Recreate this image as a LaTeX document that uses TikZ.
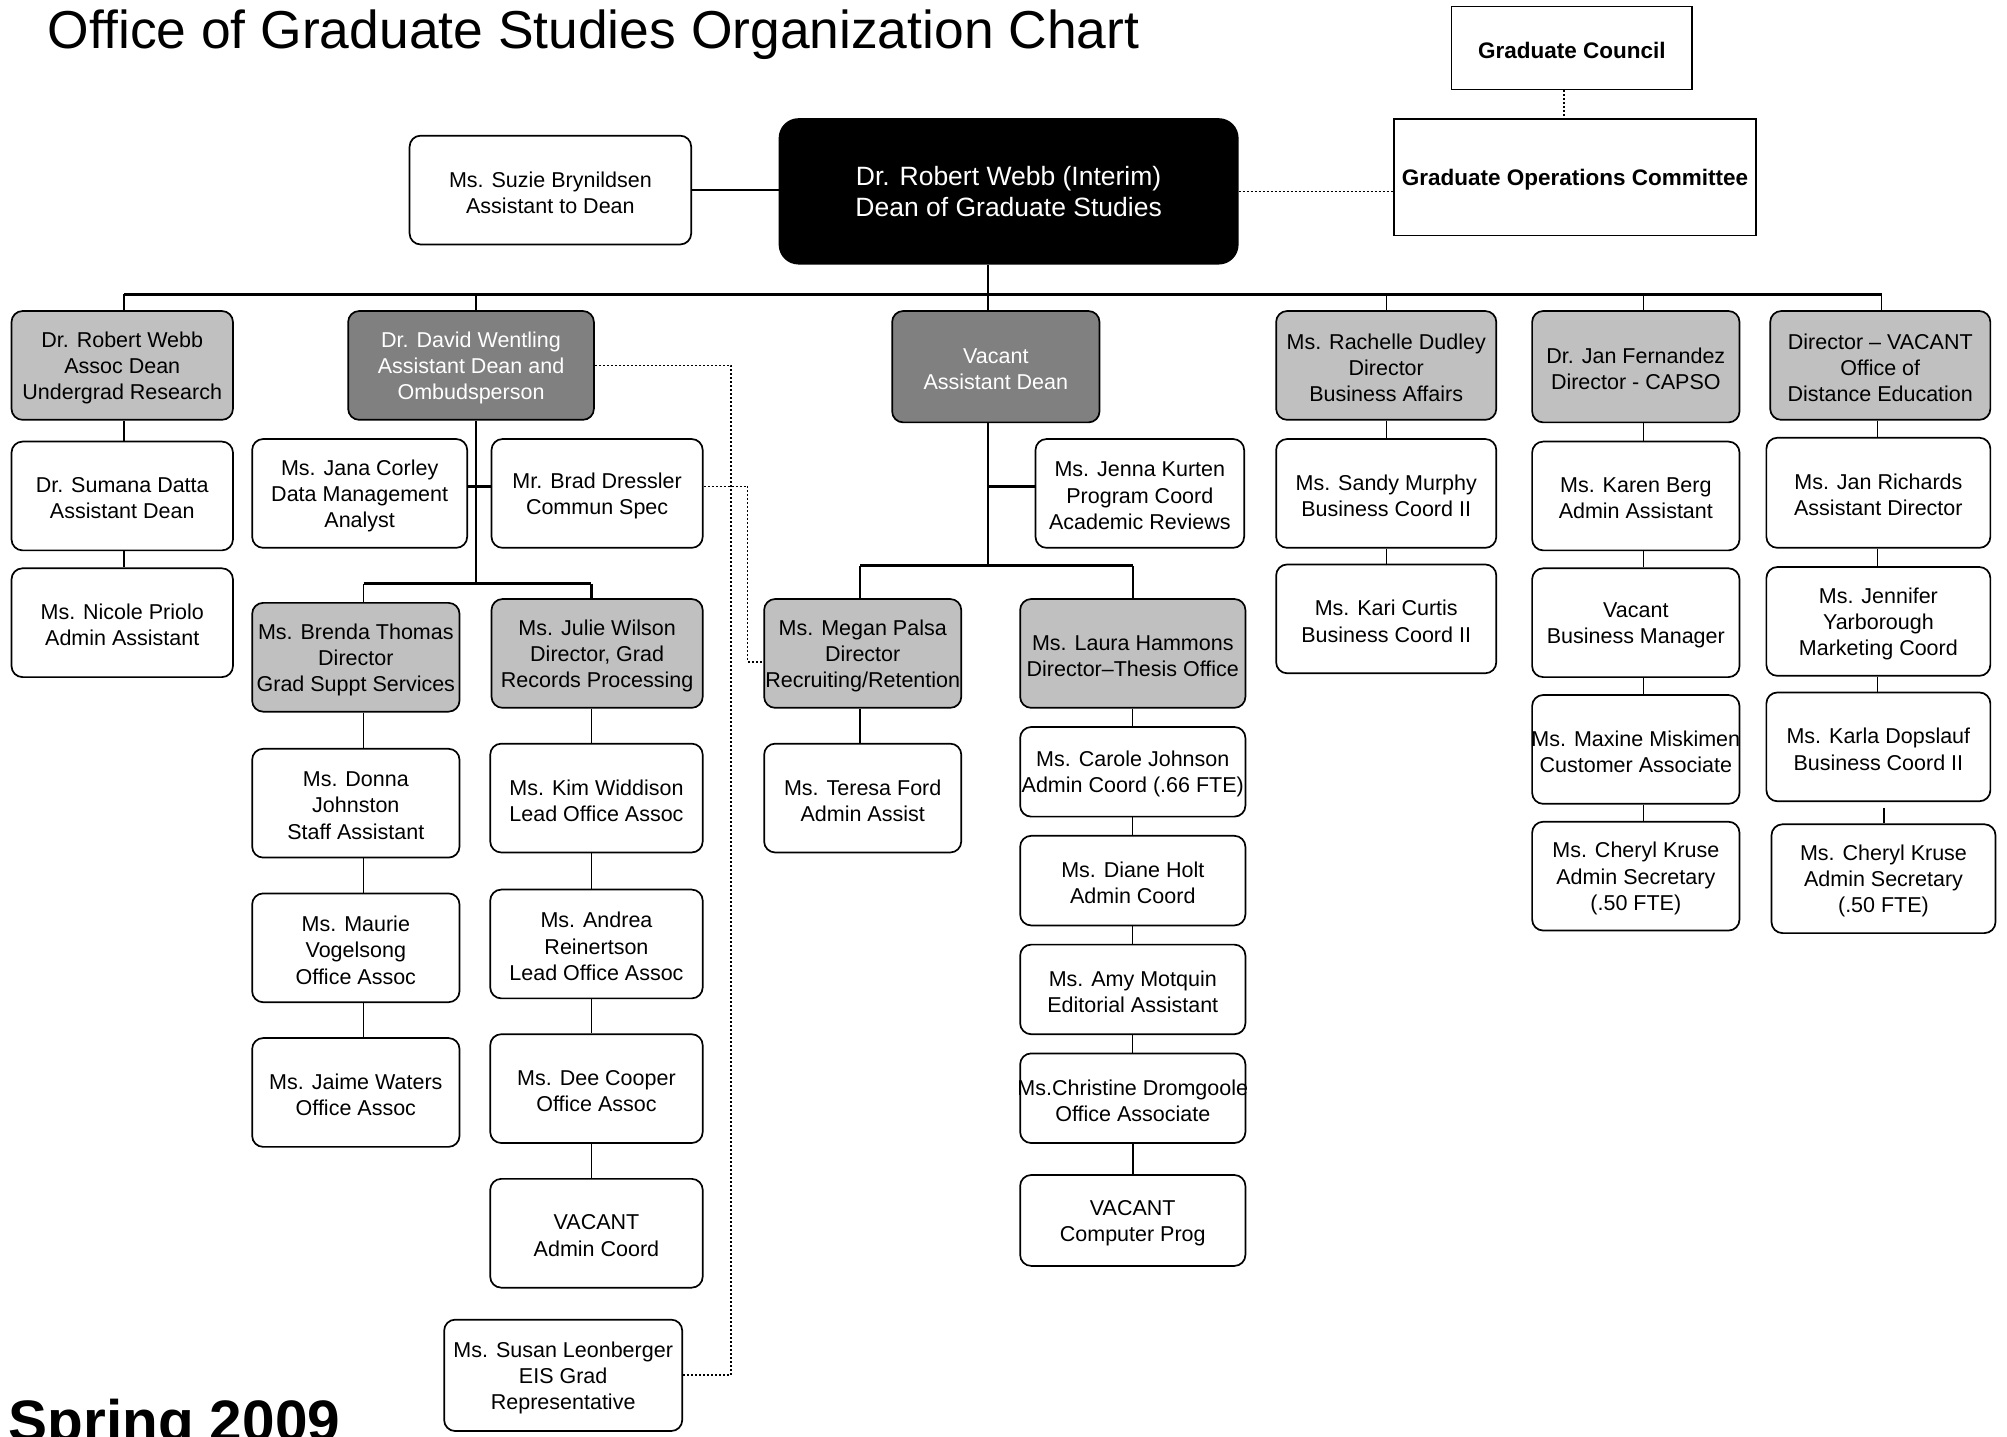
\documentclass[tikz,border=0pt]{standalone}
\usepackage{fontspec}
\setmainfont{Liberation Sans}
\definecolor{lgray}{HTML}{C0C0C0}
\definecolor{dgray}{HTML}{808080}
\newcommand\boxfont{\fontsize{21.5}{26.2}\selectfont}
\newcommand\bx[7]{\node[#6, minimum width={(#4-#2)*1.28pt}, minimum height={(#5-#3)*1.28pt}] (#1) at ({(#2+#4)/2},{(#3+#5)/2}) {};
  \node[#6, draw=none, fill=none, yshift=-2.4pt] (#1t) at (#1.center) {#7};}
\begin{document}
\begin{tikzpicture}[x=1.28pt,y=-1.28pt,
  box/.style={draw=black, line width=1.7pt, rounded corners=11pt, fill=white, align=center, inner sep=0pt, font=\boxfont},
  lg/.style={box, fill=lgray},
  dg/.style={box, fill=dgray, text=white},
  sq/.style={draw=black, line width=1.7pt, fill=white, align=center, inner sep=0pt, font=\bfseries\fontsize{22.5}{26}\selectfont},
  conn/.style={line width=1.4pt},
  mid/.style={line width=2.4pt},
  thk/.style={line width=3.4pt},
  dotl/.style={line width=1.7pt, dash pattern=on 2pt off 2pt}]
\useasboundingbox (0,0) rectangle (1568,1122.66);

\node[anchor=base west, inner sep=0pt, font=\fontsize{53.4}{60}\selectfont] (title) at (37.3,37.6) {Office of Graduate Studies Organization Chart};
\node[anchor=base west, inner sep=0pt, font=\bfseries\fontsize{58.5}{62}\selectfont] (spring) at (6.5,1125.8) {Spring 2009};

% top
\bx{gc}{1134}{5}{1322}{70}{sq}{Graduate Council}
\bx{goc}{1089}{93}{1372}{184}{sq}{Graduate Operations Committee}
\node[draw=black, fill=black, line width=1.7pt, rounded corners=19pt, minimum width={358*1.28pt}, minimum height={113*1.28pt}] (dean) at (788,149.5) {};
\node[text=white, align=center, inner sep=0pt, font=\fontsize{26.5}{30.7}\selectfont] (deant) at (dean.center) {Dr. Robert Webb (Interim)\\Dean of Graduate Studies};
\bx{suzie}{320}{106}{540}{191}{box}{Ms. Suzie Brynildsen\\Assistant to Dean}

% row 1
\bx{webb}{9}{243}{182}{328}{lg}{Dr. Robert Webb\\Assoc Dean\\Undergrad Research}
\bx{went}{272}{243}{464}{328}{dg}{Dr. David Wentling\\Assistant Dean and\\Ombudsperson}
\bx{vac}{697}{243}{859}{330}{dg}{Vacant\\Assistant Dean}
\bx{dud}{997}{243}{1169}{328}{lg}{Ms. Rachelle Dudley\\Director\\Business Affairs}
\bx{fer}{1197}{243}{1359}{330}{lg}{Dr. Jan Fernandez\\Director - CAPSO}
\bx{dir}{1383}{243}{1555}{328}{lg}{Director -- VACANT\\Office of\\Distance Education}

% Webb column
\bx{datta}{9}{345}{182}{430}{box}{Dr. Sumana Datta\\Assistant Dean}
\bx{priolo}{9}{444}{182}{529}{box}{Ms. Nicole Priolo\\Admin Assistant}

% Wentling subtree
\bx{corley}{197}{343}{365}{428}{box}{Ms. Jana Corley\\Data Management\\Analyst}
\bx{dressler}{384}{343}{549}{428}{box}{Mr. Brad Dressler\\Commun Spec}
\bx{thomas}{197}{471}{359}{556}{lg}{Ms. Brenda Thomas\\Director\\Grad Suppt Services}
\bx{wilson}{384}{468}{549}{553}{lg}{Ms. Julie Wilson\\Director, Grad\\Records Processing}
\bx{johnston}{197}{585}{359}{670}{box}{Ms. Donna\\Johnston\\Staff Assistant}
\bx{maurie}{197}{698}{359}{783}{box}{Ms. Maurie\\Vogelsong\\Office Assoc}
\bx{jaime}{197}{811}{359}{896}{box}{Ms. Jaime Waters\\Office Assoc}
\bx{kim}{383}{581}{549}{666}{box}{Ms. Kim Widdison\\Lead Office Assoc}
\bx{andrea}{383}{695}{549}{780}{box}{Ms. Andrea\\Reinertson\\Lead Office Assoc}
\bx{dee}{383}{808}{549}{893}{box}{Ms. Dee Cooper\\Office Assoc}
\bx{vacadm}{383}{921}{549}{1006}{box}{VACANT\\Admin Coord}
\bx{susan}{347}{1031}{533}{1118}{box}{Ms. Susan Leonberger\\EIS Grad\\Representative}

% Vacant subtree
\bx{kurten}{809}{343}{972}{428}{box}{Ms. Jenna Kurten\\Program Coord\\Academic Reviews}
\bx{palsa}{597}{468}{751}{553}{lg}{Ms. Megan Palsa\\Director\\Recruiting/Retention}
\bx{hammons}{797}{468}{973}{553}{lg}{Ms. Laura Hammons\\Director--Thesis Office}
\bx{ford}{597}{581}{751}{666}{box}{Ms. Teresa Ford\\Admin Assist}
\bx{carole}{797}{568}{973}{638}{box}{Ms. Carole Johnson\\Admin Coord (.66 FTE)}
\bx{diane}{797}{653}{973}{723}{box}{Ms. Diane Holt\\Admin Coord}
\bx{amy}{797}{738}{973}{808}{box}{Ms. Amy Motquin\\Editorial Assistant}
\bx{christine}{797}{823}{973}{893}{box}{Ms.Christine Dromgoole\\Office Associate}
\bx{vaccomp}{797}{918}{973}{989}{box}{VACANT\\Computer Prog}

% Dudley column
\bx{sandy}{997}{343}{1169}{428}{box}{Ms. Sandy Murphy\\Business Coord II}
\bx{kari}{997}{441}{1169}{526}{box}{Ms. Kari Curtis\\Business Coord II}

% Fernandez column
\bx{karen}{1197}{345}{1359}{430}{box}{Ms. Karen Berg\\Admin Assistant}
\bx{vacbm}{1197}{444}{1359}{529}{box}{Vacant\\Business Manager}
\bx{maxine}{1197}{543}{1359}{628}{box}{Ms. Maxine Miskimen\\Customer Associate}
\bx{kruseA}{1197}{642}{1359}{727}{box}{Ms. Cheryl Kruse\\Admin Secretary\\(.50 FTE)}

% Director column
\bx{richards}{1380}{342}{1555}{428}{box}{Ms. Jan Richards\\Assistant Director}
\bx{jennifer}{1380}{443}{1555}{528}{box}{Ms. Jennifer\\Yarborough\\Marketing Coord}
\bx{karla}{1380}{541}{1555}{626}{box}{Ms. Karla Dopslauf\\Business Coord II}
\bx{kruseB}{1384}{644}{1559}{729}{box}{Ms. Cheryl Kruse\\Admin Secretary\\(.50 FTE)}

% coordinates
\coordinate (busL) at (97,230);
\coordinate (busR) at (1470,230);
\coordinate (sp) at (772,0);
\coordinate (cW) at (97,0);
\coordinate (cWe) at (372,0);
\coordinate (cD) at (1083,0);
\coordinate (cF) at (1284,0);
\coordinate (cR) at (1467,0);
\coordinate (cR2) at (1472,0);
\coordinate (cT) at (284,0);
\coordinate (cJ) at (462,0);
\coordinate (cP) at (672,0);
\coordinate (cH) at (885,0);
\coordinate (cr) at (0,380);
\coordinate (wb) at (372,456);
\coordinate (vb) at (772,442);
\coordinate (gcx) at (1222,0);
\coordinate (dotA) at (571,0);
\coordinate (dotB) at (584,380);
\coordinate (dotC) at (584,517);
\coordinate (kgap) at (0,631);

% top connectors
\draw[conn] (suzie.east) -- (suzie.east -| dean.west);
\draw[dotl] (dean.east) -- (dean.east -| goc.west);
\draw[dotl] (gc.south -| gcx) -- (goc.north -| gcx);
\draw[line width=1.8pt] (dean.south -| sp) -- (busL -| sp);
\draw[thk] (busL) -- (busR);
\draw[conn] (busL) -- (webb.north -| cW);
\draw[conn] (cWe |- busL) -- (went.north -| cWe);
\draw[conn] (sp |- busL) -- (vac.north -| sp);
\draw[conn] (cD |- busL) -- (dud.north -| cD);
\draw[conn] (cF |- busL) -- (fer.north -| cF);
\draw[conn] (busR) -- (dir.north -| busR);

% Webb column
\draw[conn] (webb.south -| cW) -- (datta.north -| cW);
\draw[conn] (datta.south -| cW) -- (priolo.north -| cW);

% Wentling subtree
\draw[conn] (went.south -| cWe) -- (wb);
\draw[thk] (corley.east |- cr) -- (dressler.west |- cr);
\draw[thk] (cT |- wb) -- (cJ |- wb);
\draw[conn] (cT |- wb) -- (thomas.north -| cT);
\draw[mid] (cJ |- wb) -- (wilson.north -| cJ);
\draw[conn] (thomas.south -| cT) -- (johnston.north -| cT);
\draw[conn] (johnston.south -| cT) -- (maurie.north -| cT);
\draw[conn] (maurie.south -| cT) -- (jaime.north -| cT);
\draw[conn] (wilson.south -| cJ) -- (kim.north -| cJ);
\draw[conn] (kim.south -| cJ) -- (andrea.north -| cJ);
\draw[conn] (andrea.south -| cJ) -- (dee.north -| cJ);
\draw[conn] (dee.south -| cJ) -- (vacadm.north -| cJ);

% dotted links
\draw[dotl] (went.east) -- (went.east -| dotA) -- (susan.east -| dotA) -- (susan.east);
\draw[dotl] (dressler.east |- dotB) -- (dotB) -- (dotC) -- (palsa.west |- dotC);

% Vacant subtree
\draw[mid] (vac.south -| sp) -- (vb);
\draw[thk] (sp |- cr) -- (kurten.west |- cr);
\draw[thk] (cP |- vb) -- (cH |- vb);
\draw[mid] (cP |- vb) -- (palsa.north -| cP);
\draw[mid] (cH |- vb) -- (hammons.north -| cH);
\draw[conn] (palsa.south -| cP) -- (ford.north -| cP);
\draw[conn] (hammons.south -| cH) -- (carole.north -| cH);
\draw[conn] (carole.south -| cH) -- (diane.north -| cH);
\draw[conn] (diane.south -| cH) -- (amy.north -| cH);
\draw[conn] (amy.south -| cH) -- (christine.north -| cH);
\draw[mid] (christine.south -| cH) -- (vaccomp.north -| cH);

% Dudley column
\draw[conn] (dud.south -| cD) -- (sandy.north -| cD);
\draw[conn] (sandy.south -| cD) -- (kari.north -| cD);

% Fernandez column
\draw[conn] (fer.south -| cF) -- (karen.north -| cF);
\draw[conn] (karen.south -| cF) -- (vacbm.north -| cF);
\draw[conn] (vacbm.south -| cF) -- (maxine.north -| cF);
\draw[conn] (maxine.south -| cF) -- (kruseA.north -| cF);

% Director column
\draw[conn] (dir.south -| cR) -- (richards.north -| cR);
\draw[conn] (richards.south -| cR) -- (jennifer.north -| cR);
\draw[conn] (jennifer.south -| cR) -- (karla.north -| cR);
\draw[conn] (cR2 |- kgap) -- (kruseB.north -| cR2);
\end{tikzpicture}
\end{document}
